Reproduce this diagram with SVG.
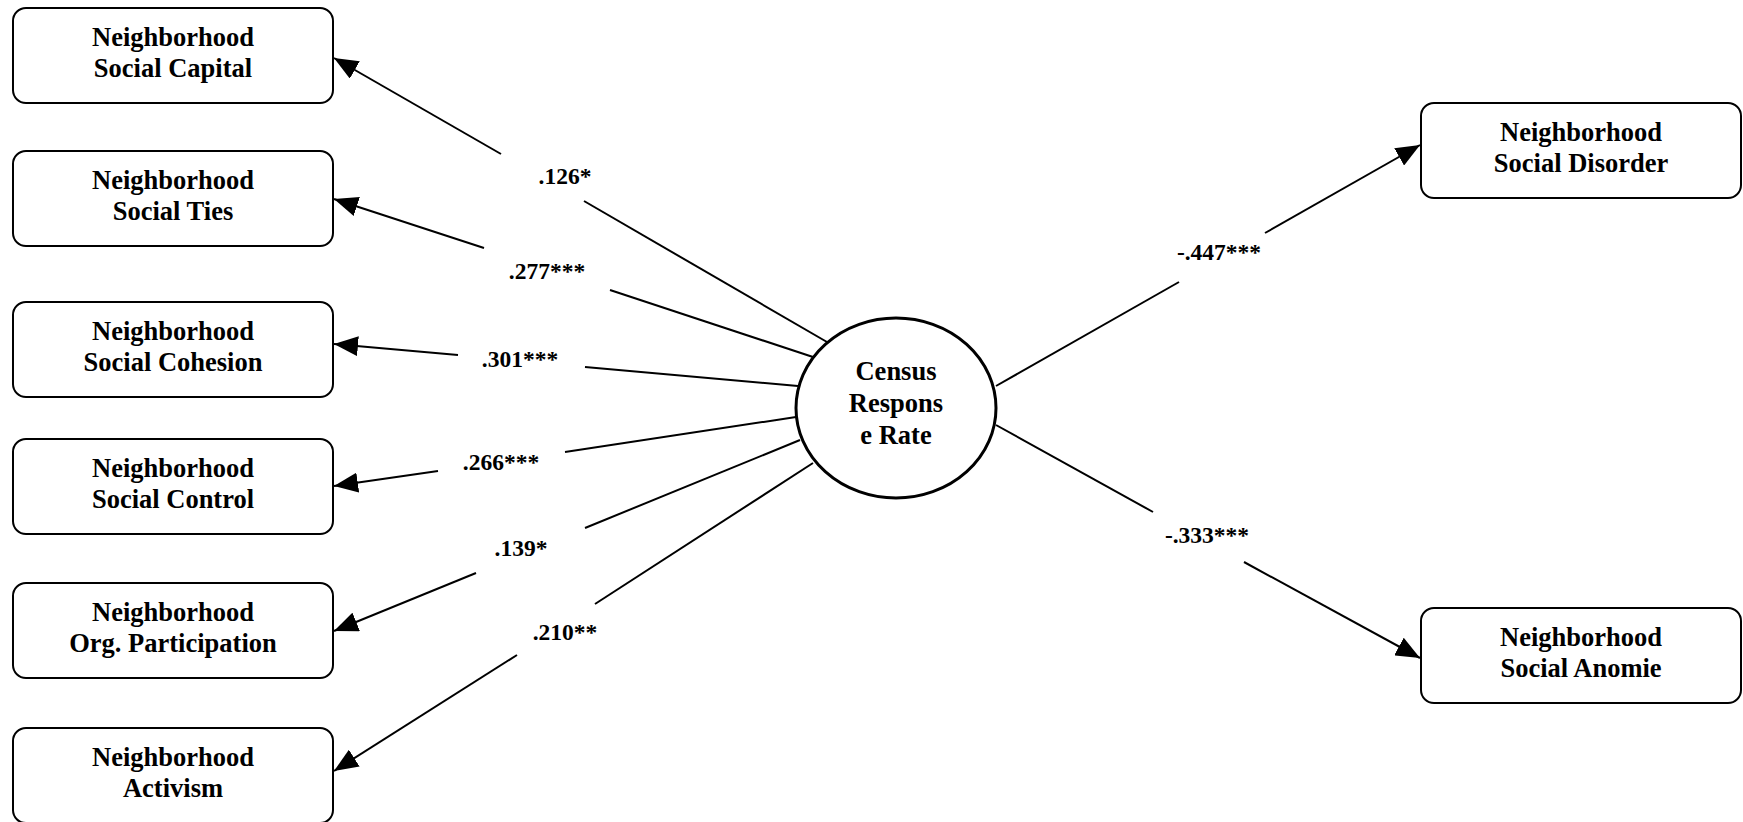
<svg xmlns="http://www.w3.org/2000/svg" width="1743" height="822" viewBox="0 0 1743 822">
<style>
.box{fill:#fff;stroke:#000;stroke-width:2}
.t{font-family:"Liberation Serif","Times New Roman",serif;font-weight:bold;font-size:26.5px;text-anchor:middle;fill:#000}
.lbl{font-family:"Liberation Serif","Times New Roman",serif;font-weight:bold;font-size:23.5px;text-anchor:middle;fill:#000}
.ln{stroke:#000;stroke-width:2;fill:none}
</style>
<defs>
<marker id="ah" viewBox="0 0 24 20" markerWidth="24" markerHeight="20" refX="24" refY="10" orient="auto" markerUnits="userSpaceOnUse">
<path d="M0,0 L24,10 L0,20 z" fill="#000"/>
</marker>
</defs>
<rect width="1743" height="822" fill="#fff"/>
<g id="connectors">
<line class="ln" x1="827" y1="342" x2="584" y2="201"/>
<line class="ln" x1="501" y1="154" x2="334" y2="58" marker-end="url(#ah)"/>
<text class="lbl" x="565" y="184">.126*</text>
<line class="ln" x1="813" y1="357" x2="610" y2="290"/>
<line class="ln" x1="484" y1="248" x2="334" y2="199" marker-end="url(#ah)"/>
<text class="lbl" x="547" y="279">.277***</text>
<line class="ln" x1="798" y1="386" x2="585" y2="367"/>
<line class="ln" x1="458" y1="355" x2="334" y2="344" marker-end="url(#ah)"/>
<text class="lbl" x="520" y="367">.301***</text>
<line class="ln" x1="796" y1="417" x2="565" y2="452"/>
<line class="ln" x1="438" y1="471" x2="334" y2="486" marker-end="url(#ah)"/>
<text class="lbl" x="501" y="470">.266***</text>
<line class="ln" x1="800" y1="440" x2="585" y2="528"/>
<line class="ln" x1="476" y1="573" x2="334" y2="631" marker-end="url(#ah)"/>
<text class="lbl" x="521" y="556">.139*</text>
<line class="ln" x1="813" y1="463" x2="595" y2="604"/>
<line class="ln" x1="517" y1="655" x2="334" y2="771" marker-end="url(#ah)"/>
<text class="lbl" x="565" y="640">.210**</text>
<line class="ln" x1="996" y1="386" x2="1179" y2="282"/>
<line class="ln" x1="1265" y1="233" x2="1420" y2="145" marker-end="url(#ah)"/>
<text class="lbl" x="1219" y="260">-.447***</text>
<line class="ln" x1="996" y1="425" x2="1153" y2="512"/>
<line class="ln" x1="1244" y1="562" x2="1420" y2="658" marker-end="url(#ah)"/>
<text class="lbl" x="1207" y="543">-.333***</text>
</g>
<g id="census">
<ellipse cx="896" cy="408" rx="100" ry="90" fill="#fff" stroke="#000" stroke-width="3"/>
<text class="t" x="896" y="380">Census</text>
<text class="t" x="896" y="412">Respons</text>
<text class="t" x="896" y="444">e Rate</text>
</g>
<g id="social-capital">
<rect class="box" x="13" y="8" width="320" height="95" rx="13"/>
<text class="t" x="173" y="46">Neighborhood</text>
<text class="t" x="173" y="77">Social Capital</text>
</g>
<g id="social-ties">
<rect class="box" x="13" y="151" width="320" height="95" rx="13"/>
<text class="t" x="173" y="189">Neighborhood</text>
<text class="t" x="173" y="220">Social Ties</text>
</g>
<g id="social-cohesion">
<rect class="box" x="13" y="302" width="320" height="95" rx="13"/>
<text class="t" x="173" y="340">Neighborhood</text>
<text class="t" x="173" y="371">Social Cohesion</text>
</g>
<g id="social-control">
<rect class="box" x="13" y="439" width="320" height="95" rx="13"/>
<text class="t" x="173" y="477">Neighborhood</text>
<text class="t" x="173" y="508">Social Control</text>
</g>
<g id="org-participation">
<rect class="box" x="13" y="583" width="320" height="95" rx="13"/>
<text class="t" x="173" y="621">Neighborhood</text>
<text class="t" x="173" y="652">Org. Participation</text>
</g>
<g id="activism">
<rect class="box" x="13" y="728" width="320" height="95" rx="13"/>
<text class="t" x="173" y="766">Neighborhood</text>
<text class="t" x="173" y="797">Activism</text>
</g>
<g id="social-disorder">
<rect class="box" x="1421" y="103" width="320" height="95" rx="13"/>
<text class="t" x="1581" y="141">Neighborhood</text>
<text class="t" x="1581" y="172">Social Disorder</text>
</g>
<g id="social-anomie">
<rect class="box" x="1421" y="608" width="320" height="95" rx="13"/>
<text class="t" x="1581" y="646">Neighborhood</text>
<text class="t" x="1581" y="677">Social Anomie</text>
</g>
</svg>
